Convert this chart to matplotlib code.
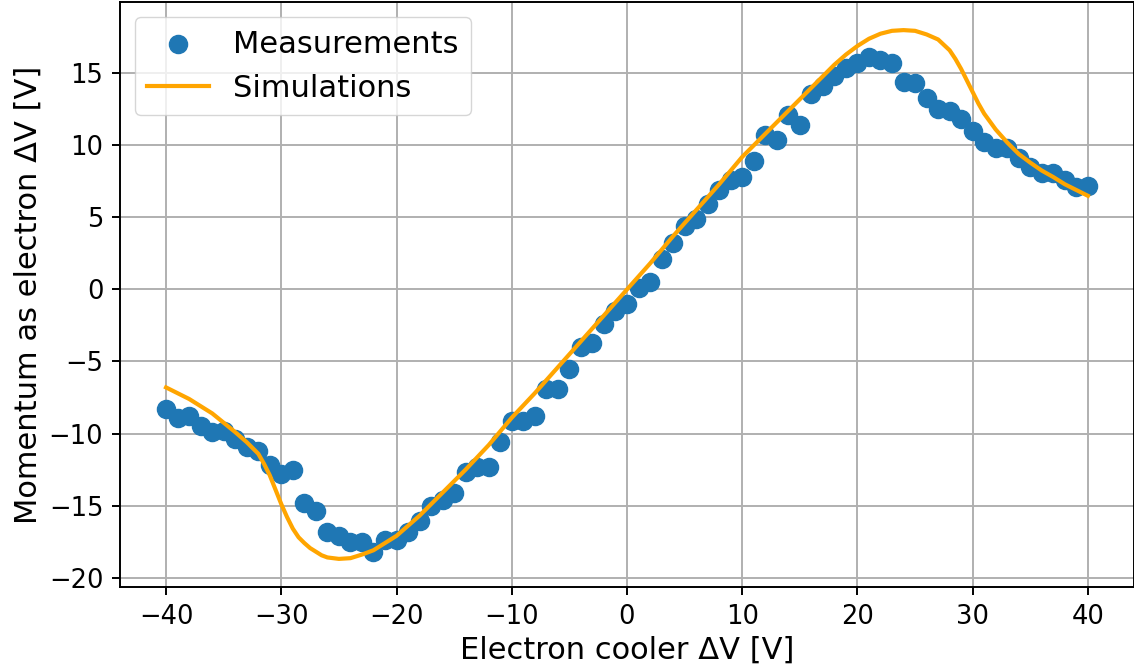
import matplotlib
matplotlib.use("Agg")
import matplotlib.pyplot as plt
import numpy as np

# measured points, one per volt from -40 to 40
meas_x = list(range(-40, 41))
meas_y = [
    -8.3, -8.9, -8.8, -9.5, -9.9, -9.8, -10.4, -10.9, -11.2, -12.2,
    -12.8, -12.5, -14.8, -15.4, -16.8, -17.1, -17.5, -17.5, -18.2, -17.4,
    -17.4, -16.8, -16.1, -15.0, -14.6, -14.1, -12.7, -12.3, -12.3, -10.6,
    -9.1, -9.1, -8.8, -6.9, -6.9, -5.5, -4.0, -3.7, -2.4, -1.5,
    -1.0, 0.1, 0.5, 2.1, 3.2, 4.4, 4.9, 5.9, 6.9, 7.6,
    7.8, 8.9, 10.7, 10.4, 12.1, 11.4, 13.6, 14.1, 14.8, 15.4,
    15.7, 16.1, 15.9, 15.7, 14.4, 14.3, 13.3, 12.5, 12.4, 11.8,
    11.0, 10.2, 9.8, 9.8, 9.1, 8.5, 8.1, 8.1, 7.6, 7.1,
    7.2,
]

# simulation curve
sim_x = [-40, -38, -36, -34, -33, -32, -31.5, -31, -30.5, -30, -29.5, -29,
         -28.5, -28, -27.5, -27, -26.5, -26, -25, -24, -23, -22, -21, -20,
         -18, -16, -14, -12, -10, -8, -6, -4, -2, 0, 2, 4, 6, 8, 10, 12, 14,
         16, 18, 19, 20, 21, 22, 23, 24, 25, 26, 27, 28, 28.5, 29, 29.5, 30,
         30.5, 31, 32, 33, 34, 35, 36, 37, 38, 39, 40]
sim_y = [-6.8, -7.6, -8.6, -9.9, -10.6, -11.4, -12.1, -12.9, -13.9, -14.9,
         -15.8, -16.6, -17.2, -17.6, -17.95, -18.2, -18.45, -18.6, -18.7,
         -18.65, -18.4, -18.1, -17.6, -17.1, -15.7, -14.1, -12.5, -10.8,
         -8.9, -7.2, -5.4, -3.6, -1.8, 0.0, 1.8, 3.7, 5.5, 7.3, 9.2, 10.8,
         12.4, 14.0, 15.6, 16.3, 16.9, 17.4, 17.75, 17.95, 18.0, 17.95, 17.7,
         17.35, 16.6, 16.0, 15.3, 14.5, 13.7, 12.9, 12.2, 11.1, 10.2, 9.4,
         8.8, 8.25, 7.8, 7.3, 6.9, 6.5]

fig = plt.figure(figsize=(11.34, 6.7), dpi=100)
ax = fig.add_axes([0.1058, 0.1239, 0.8942, 0.8731])

ax.scatter(meas_x, meas_y, s=170, color="#1f77b4", label="Measurements", zorder=3)
ax.plot(sim_x, sim_y, color="orange", linewidth=3.0, label="Simulations", zorder=4)

ax.set_xlim(-44, 44)
ax.set_ylim(-20.65, 19.95)
ax.set_xticks([-40, -30, -20, -10, 0, 10, 20, 30, 40])
ax.set_yticks([-20, -15, -10, -5, 0, 5, 10, 15])
ax.grid(True, color="#b0b0b0", linewidth=1.4)
ax.set_axisbelow(True)
for s in ax.spines.values():
    s.set_linewidth(1.4)
ax.tick_params(labelsize=18.5, width=1.4, length=6, pad=6)

ax.set_xlabel("Electron cooler ΔV [V]", fontsize=22)
ax.set_ylabel("Momentum as electron ΔV [V]", fontsize=22)
ax.legend(loc="upper left", fontsize=22, borderpad=0.4, handlelength=2.0)

fig.savefig("out.png", dpi=100)
